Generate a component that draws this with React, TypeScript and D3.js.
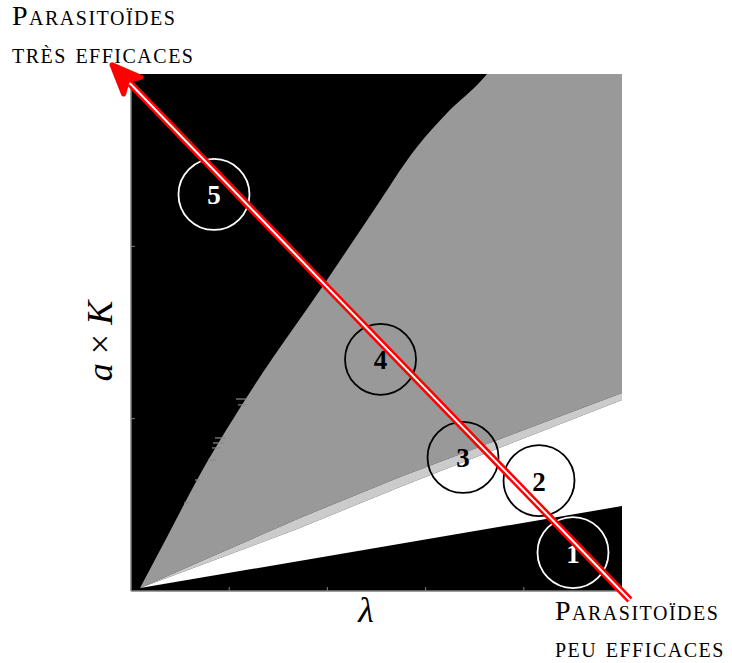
import React from 'react';
import * as d3 from 'd3';

type P = [number, number];

// axes
const xTicks = [0, 1, 2, 3, 4, 5];
const yTicks = [0, 1, 2, 3];

// region boundaries, in (lambda, a*K) units
const grayUpper: P[] = [
  [0.092, 0.017], [0.367, 0.313], [0.672, 0.644], [1.161, 1.108],
  [1.996, 1.805], [2.454, 2.194], [2.912, 2.577], [3.218, 2.774], [3.574, 2.966], [3.625, 3.0],
];
const grayLower: P[] = [[0.092, 0.017], [1.72, 0.424], [2.74, 0.662], [5, 1.149]];
const lightLower: P[] = [[0.092, 0.017], [1.72, 0.366], [2.74, 0.604], [5, 1.109]];
const blackTop: P[] = [[0.092, 0.017], [5, 0.493]];

// small numeric streaks along the gray/black border: [aK, lambdaStart, lambdaEnd]
const streaks: [number, number, number][] = [
  [1.114, 1.069, 1.181], [1.08, 1.09, 1.181], [0.888, 0.855, 0.967], [0.859, 0.835, 0.947],
  [0.83, 0.825, 0.916], [0.76, 0.784, 0.866], [0.644, 0.652, 0.703], [0.511, 0.54, 0.591],
];

// numbered zones
const zoneLabels = ['1', '2', '3', '4', '5'];
const zoneLambda = [4.501, 4.155, 3.381, 2.541, 0.845];
const zoneAK = [0.223, 0.641, 0.775, 1.344, 2.301];
const zoneColor = ['#ffffff', '#000000', '#000000', '#000000', '#ffffff'];

// arrow (from weak to very efficient parasitoids)
const arrowFrom: P = [5.08, -0.052];
const arrowTo: P = [-0.193, 3.053];

const W = 732, H = 663;
const x = d3.scaleLinear().domain([0, 5]).range([131, 622]);
const y = d3.scaleLinear().domain([0, 3]).range([591, 74]);

const line = d3.line<P>().x(d => x(d[0])).y(d => y(d[1]));
const smooth = d3.line<P>().x(d => x(d[0])).y(d => y(d[1])).curve(d3.curveMonotoneX);

const serif = '"Liberation Serif", "DejaVu Serif", serif';

export default function App() {
  const upperPath = smooth(grayUpper) as string;
  const grayPath = upperPath + 'L' + [[5, 3] as P, ...grayLower.slice().reverse()].map(d => `${x(d[0])},${y(d[1])}`).join('L') + 'Z';
  const lightPoly: P[] = [...grayLower, ...lightLower.slice().reverse()];
  const whitePoly: P[] = [...lightLower, ...blackTop.slice().reverse()];

  // arrow geometry
  const x0 = x(arrowFrom[0]), y0 = y(arrowFrom[1]);
  const x1 = x(arrowTo[0]), y1 = y(arrowTo[1]);
  const len = Math.hypot(x1 - x0, y1 - y0);
  const ux = (x1 - x0) / len, uy = (y1 - y0) / len;
  const px = -uy, py = ux;
  const headLen = 29, headHalf = 12, back = 22;
  const bx = x1 - ux * headLen, by = y1 - uy * headLen;
  const nx = x1 - ux * back, ny = y1 - uy * back;
  const head = `M${x1},${y1}L${bx + px * headHalf},${by + py * headHalf}L${nx},${ny}L${bx - px * headHalf},${by - py * headHalf}Z`;
  const sx = x1 - ux * 26, sy = y1 - uy * 26;

  return (
    <svg width={W} height={H} style={{ position: 'absolute', left: 0, top: 0, background: '#fff' }}>
      <rect x={x(0)} y={y(3)} width={x(5) - x(0)} height={y(0) - y(3)} fill="#000" />
      <path d={grayPath} fill="#999999" />
      <path d={line(lightPoly) + 'Z'} fill="#cbcbcb" />
      <path d={line(whitePoly) + 'Z'} fill="#ffffff" />
      {streaks.map((s, i) => (
        <line key={i} x1={x(s[1])} x2={x(s[2])} y1={y(s[0])} y2={y(s[0])} stroke="#8a8a8a" strokeWidth={1.2} />
      ))}
      {/* axes */}
      <line x1={x(0)} x2={x(0)} y1={y(0)} y2={y(3)} stroke="#808080" strokeWidth={1.5} />
      <line x1={x(0)} x2={x(5)} y1={y(0)} y2={y(0)} stroke="#808080" strokeWidth={1.5} />
      {xTicks.slice(1, -1).map(t => (
        <line key={t} x1={x(t)} x2={x(t)} y1={y(0)} y2={y(0) - 4} stroke="#808080" strokeWidth={1} />
      ))}
      {yTicks.slice(1, -1).map(t => (
        <line key={t} x1={x(0)} x2={x(0) + 4} y1={y(t)} y2={y(t)} stroke="#808080" strokeWidth={1} />
      ))}
      {/* zones */}
      {zoneLabels.map((l, i) => (
        <g key={l}>
          <circle cx={x(zoneLambda[i])} cy={y(zoneAK[i])} r={35.5} fill="none" stroke={zoneColor[i]} strokeWidth={1.8} />
          <text x={x(zoneLambda[i])} y={y(zoneAK[i]) + 10} textAnchor="middle" fontFamily={serif} fontWeight="bold" fontSize={27} fill={zoneColor[i]}>{l}</text>
        </g>
      ))}
      {/* arrow */}
      <line x1={x0} y1={y0} x2={sx} y2={sy} stroke="#ff0000" strokeWidth={7} />
      <line x1={x0} y1={y0} x2={sx} y2={sy} stroke="#ffffff" strokeWidth={2} />
      <path d={head} fill="#ff0000" stroke="#ff0000" strokeWidth={5} strokeLinejoin="round" />
      {/* axis labels */}
      <text x={366} y={622} textAnchor="middle" fontFamily={serif} fontStyle="italic" fontSize={36}>λ</text>
      <text transform="translate(112,341) rotate(-90)" textAnchor="middle" fontFamily={serif} fontSize={36}>
        <tspan fontStyle="italic">a</tspan> × <tspan fontStyle="italic">K</tspan>
      </text>
      {/* annotations */}
      <g fontFamily={serif} fontSize={28} letterSpacing={1.5} style={{ fontVariant: 'small-caps' }} fill="#000">
        <text x={12} y={25}>Parasitoïdes</text>
        <text x={12} y={63}>très efficaces</text>
        <text x={555} y={620}>Parasitoïdes</text>
        <text x={555} y={657}>peu efficaces</text>
      </g>
    </svg>
  );
}
